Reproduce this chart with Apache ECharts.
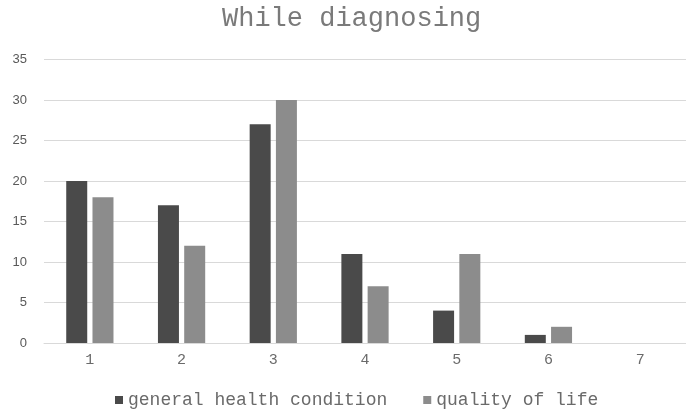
<!DOCTYPE html>
<html><head><meta charset="utf-8">
<script src="https://cdn.jsdelivr.net/npm/echarts@6/dist/echarts.min.js"></script>
<style>html,body{margin:0;padding:0;background:#fff}#c{width:686px;height:411px}</style>
</head><body><div id="c"></div>
<script>
const categories = ['1','2','3','4','5','6','7'];
const generalHealth = [20, 17, 27, 11, 4, 1, 0];
const qualityOfLife = [18, 12, 30, 7, 11, 2, 0];
const seriesNames = ['general health condition', 'quality of life'];
const titleText = 'While diagnosing';

const mono = '"Liberation Mono", "Courier New", monospace';
const chart = echarts.init(document.getElementById('c'), null, {renderer: 'canvas'});
chart.setOption({
  animation: false,
  backgroundColor: '#ffffff',
  title: {
    text: titleText, left: 222, top: 5, padding: 0,
    textStyle: {fontFamily: mono, fontSize: 27, fontWeight: 'normal', color: '#7a7a7a'}
  },
  legend: {
    data: seriesNames, top: 391, left: 115, padding: 0,
    icon: 'rect', itemWidth: 8, itemHeight: 8, itemGap: 36,
    textStyle: {fontFamily: mono, fontSize: 18, color: '#6a6a6a'}
  },
  grid: {left: 44, top: 59.5, width: 648, height: 283.5, containLabel: false},
  xAxis: {
    type: 'category', data: categories,
    axisLine: {show: true, lineStyle: {color: '#d9d9d9', width: 1}},
    axisTick: {show: false},
    axisLabel: {fontFamily: mono, fontSize: 15, color: '#6a6a6a', margin: 10}
  },
  yAxis: {
    type: 'value', min: 0, max: 35, interval: 5,
    axisLine: {show: false}, axisTick: {show: false},
    splitLine: {lineStyle: {color: '#d9d9d9', width: 1}},
    axisLabel: {fontFamily: '"Liberation Sans", Arial, sans-serif', fontSize: 13, color: '#595959', margin: 17}
  },
  series: [
    {name: seriesNames[0], type: 'bar', data: generalHealth, barWidth: 21, barGap: '25%',
     itemStyle: {color: '#4a4a4a'}},
    {name: seriesNames[1], type: 'bar', data: qualityOfLife, barWidth: 21, barGap: '25%',
     itemStyle: {color: '#8c8c8c'}}
  ]
});
</script></body></html>
